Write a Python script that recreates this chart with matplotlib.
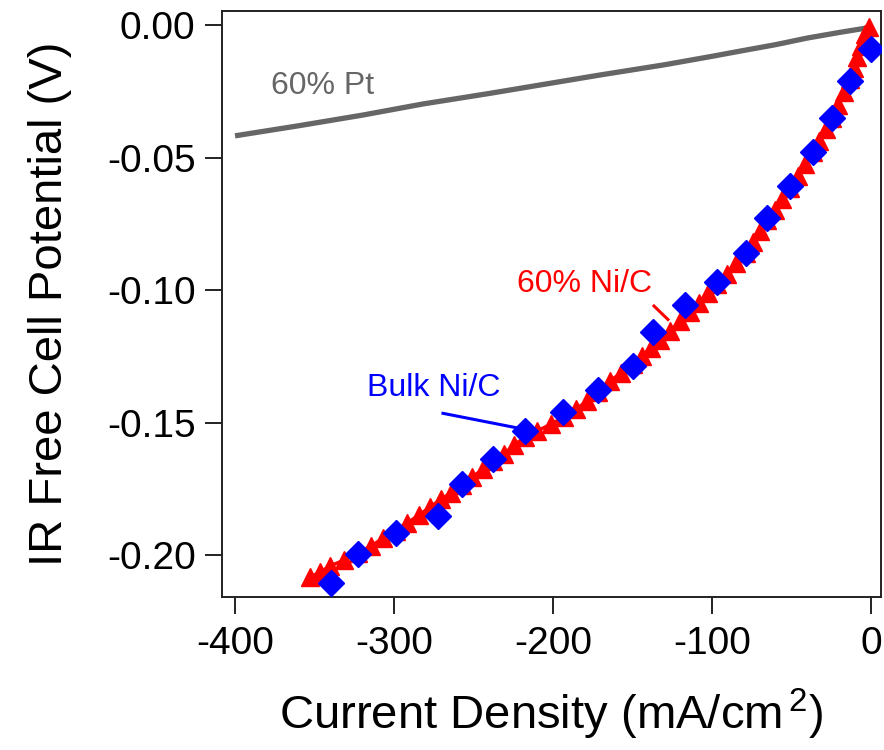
import matplotlib
matplotlib.use("Agg")
import matplotlib.pyplot as plt

plt.rcParams['font.family'] = ['Liberation Sans', 'DejaVu Sans']
plt.rcParams['axes.unicode_minus'] = False
plt.rcParams['mathtext.default'] = 'regular'

# 60% Pt (gray line)
pt_x = [-400, -360, -320, -282, -240, -200, -170, -130, -100, -82, -60, -40, -20, -2.5, 0]
pt_y = [-0.0418, -0.0380, -0.0340, -0.0298, -0.0258, -0.0218, -0.0188, -0.0150, -0.0118, -0.0098, -0.0074, -0.0049, -0.0028, -0.0011, 0.0]

# 60% Ni/C (red triangles)
ni60_x = [-1.3, -3.8, -6.3, -8.8, -10.7, -13.2, -17.0, -20.8, -24.5, -28.3, -32.7, -36.5,
          -41.5, -45.9, -50.9, -56.0, -60.4, -65.4, -69.8, -74.2, -78.6, -84.9, -90.6, -96.9,
          -102.5, -108.2, -113.8, -120.1, -126.4, -132.7, -138.4, -144.0, -149.7, -157.2, -164.2, -171.7,
          -178.6, -185.5, -193.1, -201.3, -210.1, -217.6, -224.5, -230.8, -237.7, -244.0, -250.9, -257.2,
          -264.2, -270.4, -277.4, -284.3, -291.8, -298.7, -306.9, -314.5, -322.6, -331.4, -340.3, -346.5,
          -352.8]
ni60_y = [-0.0008, -0.0034, -0.0079, -0.0121, -0.0162, -0.0204, -0.0253, -0.0302, -0.0351, -0.0393, -0.0438, -0.0479,
          -0.0524, -0.0570, -0.0615, -0.0656, -0.0698, -0.0736, -0.0777, -0.0819, -0.0860, -0.0898, -0.0940, -0.0977,
          -0.1011, -0.1049, -0.1083, -0.1117, -0.1155, -0.1189, -0.1219, -0.1249, -0.1279, -0.1313, -0.1343, -0.1385,
          -0.1419, -0.1449, -0.1479, -0.1506, -0.1532, -0.1555, -0.1585, -0.1619, -0.1645, -0.1675, -0.1706, -0.1736,
          -0.1766, -0.1789, -0.1819, -0.1849, -0.1879, -0.1909, -0.1936, -0.1966, -0.1992, -0.2019, -0.2041, -0.2064,
          -0.2083]

# Bulk Ni/C (blue diamonds)
bulk_x = [0.0, -13.2, -24.5, -36.5, -50.9, -65.4, -78.6, -96.9, -117.0, -137.1, -149.7, -171.7,
          -193.7, -217.6, -237.7, -257.2, -272.3, -298.7, -322.6, -339.6]
bulk_y = [-0.0091, -0.0211, -0.0351, -0.0479, -0.0608, -0.0728, -0.0860, -0.0970, -0.1057, -0.1159, -0.1287, -0.1377,
          -0.1460, -0.1532, -0.1638, -0.1732, -0.1853, -0.1917, -0.1996, -0.2106]

x_ticks = [-400, -300, -200, -100, 0]
y_ticks = [0.00, -0.05, -0.10, -0.15, -0.20]

fig = plt.figure(figsize=(8.84, 7.5), dpi=100)
ax = fig.add_axes([222/884, 1 - 597/750, (881 - 222)/884, (597 - 11)/750])

ax.plot(pt_x, pt_y, color='#666666', lw=3.8, solid_capstyle='butt', zorder=2)
ax.plot(ni60_x, ni60_y, color='#ff0000', lw=2.5, marker='^', ms=12.5, mec='#ff0000', mfc='#ff0000',
        zorder=3)
ax.plot(bulk_x, bulk_y, ls='none', marker='D', ms=13, color='#0000ff', mec='#0000ff', zorder=4)

ax.text(-345, -0.023, '60% Pt', color='#666666', fontsize=23, ha='center', va='center')
ax.text(-180, -0.0978, '60% Ni/C', color='#ff0000', fontsize=23, ha='center', va='center')
ax.plot([-136.5, -127.7], [-0.1060, -0.1111], color='#ff0000', lw=2.2, zorder=3)
ax.text(-275, -0.137, 'Bulk Ni/C', color='#0000ff', fontsize=23, ha='center', va='center')
ax.plot([-269.2, -220.8], [-0.1465, -0.1522], color='#0000ff', lw=2.2, zorder=3)

ax.set_xlim(-408.2, 6.3)
ax.set_ylim(-0.2158, 0.0053)
ax.set_xticks(x_ticks)
ax.set_xticklabels([f'{v:d}' for v in x_ticks])
ax.set_yticks(y_ticks)
ax.set_yticklabels([f'{v:.2f}' for v in y_ticks])
ax.tick_params(direction='out', length=12, width=1.4, labelsize=28, pad=7, color='#222222')
ax.tick_params(axis='x', pad=9)
for s in ax.spines.values():
    s.set_linewidth(1.4)
    s.set_color('#222222')

ax.set_xlabel('Current Density (mA/cm$^{\\,2}$)', fontsize=34, labelpad=18)
ax.set_ylabel('IR Free Cell Potential (V)', fontsize=34, labelpad=25)

fig.savefig('out.png', dpi=100)
